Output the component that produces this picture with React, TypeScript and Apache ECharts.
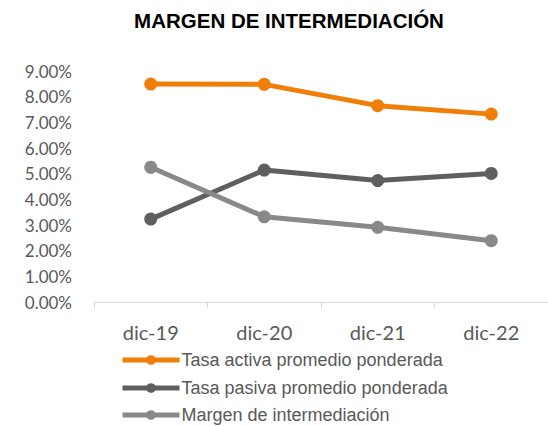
import React, { useEffect, useRef } from "react";
import * as echarts from "echarts";

const categories = ["dic-19", "dic-20", "dic-21", "dic-22"];
const tasaActiva = [8.49, 8.48, 7.65, 7.32];
const tasaPasiva = [3.23, 5.14, 4.73, 5.01];
const margen = [5.25, 3.32, 2.91, 2.39];
const seriesNames = [
  "Tasa activa promedio ponderada",
  "Tasa pasiva promedio ponderada",
  "Margen de intermediación",
];
const colors = ["#F07F09", "#5F5F5F", "#898989"];

export default function App() {
  const ref = useRef<HTMLDivElement>(null);
  useEffect(() => {
    if (!ref.current) return;
    const chart = echarts.init(ref.current, null, { renderer: "svg" });
    const mk = (name: string, data: number[], color: string) => ({
      name,
      type: "line",
      data,
      symbol: "circle",
      symbolSize: 13,
      lineStyle: { width: 5, color },
      itemStyle: { color },
      emphasis: { disabled: true },
    });
    const legendTops = [351, 379, 406];
    chart.setOption({
      animation: false,
      title: {
        text: "MARGEN DE INTERMEDIACIÓN",
        left: 284,
        textAlign: "center",
        top: 5,
        textStyle: {
          fontFamily: "Liberation Sans, Arial",
          fontSize: 20.5,
          fontWeight: "bold",
          color: "#000",
        },
      },
      legend: seriesNames.map((n, i) => ({
        orient: "vertical",
        left: 120,
        top: legendTops[i],
        padding: 0,
        itemWidth: 57,
        itemHeight: 12,
        lineStyle: { width: 5 },
        data: [n],
        textStyle: {
          fontFamily: "Liberation Sans, Arial",
          fontSize: 18,
          color: "#595959",
          padding: [0, 0, 0, -3],
        },
      })),
      grid: { left: 94, right: -11, top: 71, bottom: 124 },
      xAxis: {
        type: "category",
        data: categories,
        boundaryGap: true,
        axisLine: { lineStyle: { color: "#D9D9D9", width: 1 } },
        axisTick: { show: true, length: 6, lineStyle: { color: "#D9D9D9" } },
        axisLabel: {
          fontFamily: "Lato, Open Sans",
          fontSize: 20,
          color: "#595959",
          margin: 20,
        },
      },
      yAxis: {
        type: "value",
        min: 0,
        max: 9,
        interval: 1,
        axisLine: { show: false },
        axisTick: { show: false },
        splitLine: { show: false },
        axisLabel: {
          formatter: (v: number) => v.toFixed(2) + "%",
          fontFamily: "Lato, Open Sans",
          fontSize: 17,
          color: "#595959",
          margin: 22,
        },
      },
      series: [
        mk(seriesNames[0], tasaActiva, colors[0]),
        mk(seriesNames[1], tasaPasiva, colors[1]),
        mk(seriesNames[2], margen, colors[2]),
      ],
    });
    return () => chart.dispose();
  }, []);
  return <div ref={ref} style={{ width: 548, height: 426, position: "absolute", left: 0, top: 0 }} />;
}
